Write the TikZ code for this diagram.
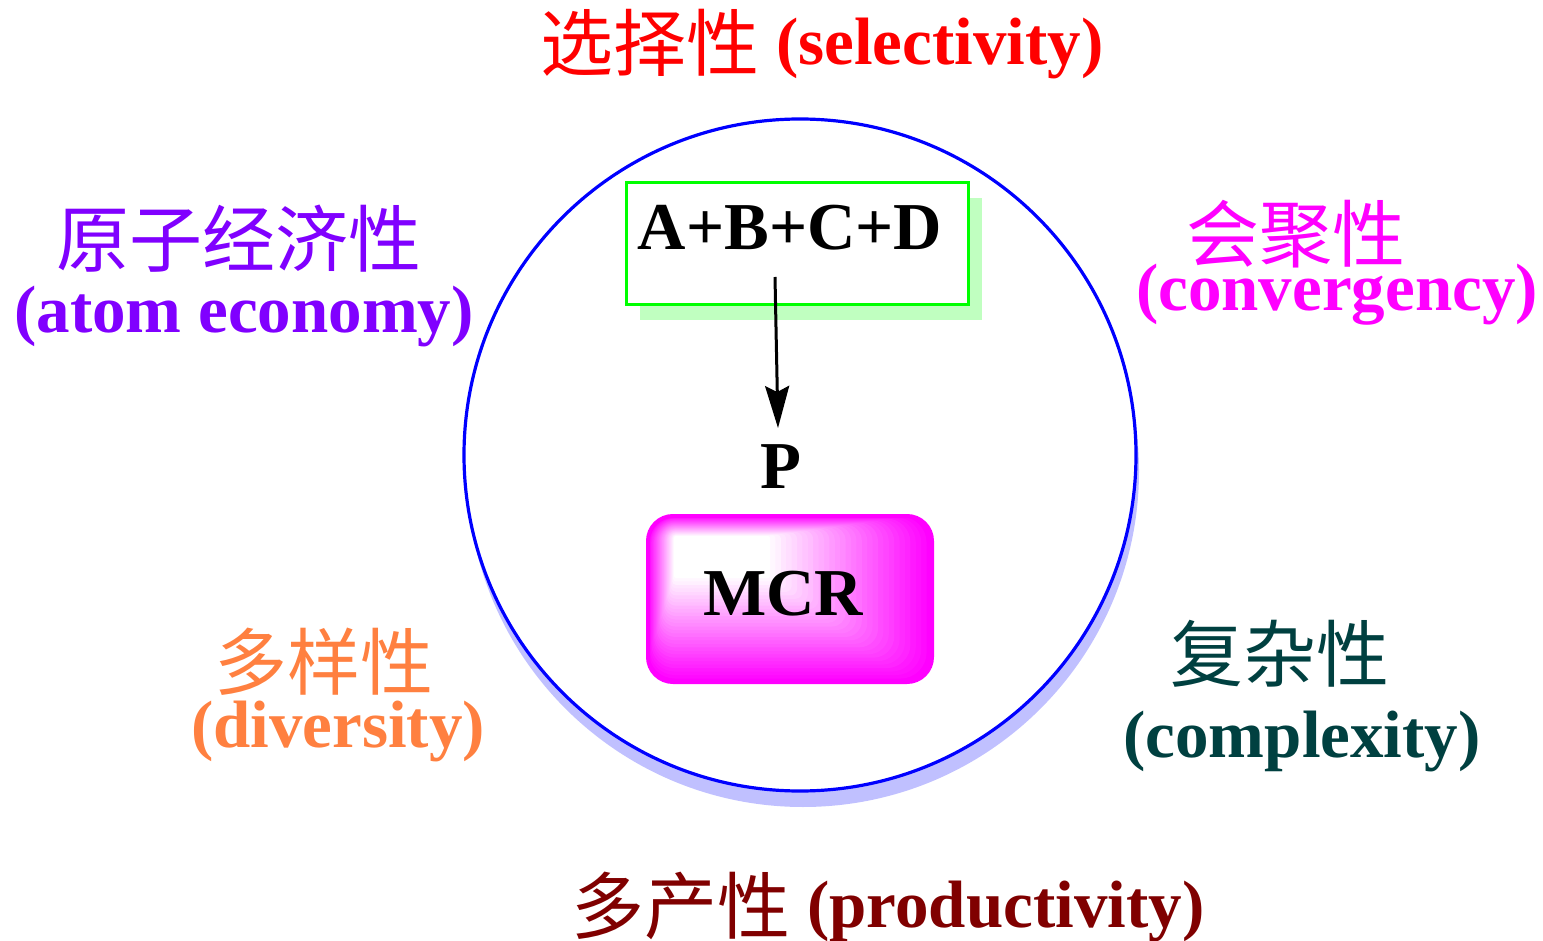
\documentclass[tikz,border=0pt]{standalone}
\usepackage{fontspec}
\setmainfont{Liberation Serif}
\newfontfamily\cjk{Noto Sans CJK SC}
\usetikzlibrary{arrows.meta,shadows}
\definecolor{selred}{HTML}{FF0000}
\definecolor{atompurple}{HTML}{8000FF}
\definecolor{convmag}{HTML}{FF00FF}
\definecolor{divorange}{HTML}{FF8040}
\definecolor{compteal}{HTML}{004040}
\definecolor{proddark}{HTML}{800000}
\definecolor{shadowblue}{HTML}{C0C0FF}
\definecolor{shadowgreen}{HTML}{C0FFC0}
\definecolor{boxgreen}{HTML}{00FF00}
\definecolor{ringblue}{HTML}{0000FF}
\definecolor{mcrmag}{HTML}{FF00FF}
\newcommand\zhinline[1]{\raisebox{-3pt}{\cjk\mdseries\fontsize{36.5pt}{38pt}\selectfont #1}}
\begin{document}
\begin{tikzpicture}[x=0.5pt,y=-0.5pt,
  lat/.style={font=\fontsize{33.5pt}{36pt}\selectfont\bfseries, inner sep=0pt, anchor=base},
  zh/.style={font=\fontsize{36.5pt}{38pt}\selectfont\cjk, inner sep=0pt, anchor=base},
]
\useasboundingbox (0,0) rectangle (1543,941);

% ring with shadow
\node[circle, draw=ringblue, line width=1.6pt, fill=white, minimum size=336pt, inner sep=0pt,
  drop shadow={shadow xshift=1.5pt, shadow yshift=-8pt, fill=shadowblue, opacity=1}] (ring) at (800,455) {};

% green reactant box
\node[draw=boxgreen, line width=1.5pt, fill=white, minimum width=171pt, minimum height=61pt, inner sep=0pt,
  drop shadow={shadow xshift=7pt, shadow yshift=-7.5pt, fill=shadowgreen, opacity=1}] (box) at (797,244) {};
\node[lat] (abcd) at (790,250) {A+B+C+D};

% MCR box with bevel-like gradient
\foreach \i in {0,...,30}{
  \pgfmathsetmacro\t{\i/30}
  \pgfmathsetmacro\xa{648+26*\t}
  \pgfmathsetmacro\ya{516+20*\t}
  \pgfmathsetmacro\xb{932-162*\t}
  \pgfmathsetmacro\yb{682-104*\t}
  \pgfmathtruncatemacro\p{100*(1-\t)}
  \pgfmathsetmacro\rc{12.5*(1-\t)+1}
  \fill[mcrmag!\p!white, rounded corners=\rc pt] (\xa,\ya) rectangle (\xb,\yb);
}
\node[draw=mcrmag, line width=2pt, rounded corners=12.5pt, minimum width=142pt, minimum height=83pt, inner sep=0pt] (mcrbox) at (790,599) {};
\node[lat] (mcr) at (783,615) {MCR};

% product and arrow
\node[lat] (P) at (781,488) {P};
\coordinate (arrS) at (775,277);
\coordinate (arrE) at (778,428);
\draw[line width=1.5pt, -{Stealth[length=21pt,width=12pt,inset=3pt]}] (arrS) -- (arrE);

% labels
\node[lat, text=selred] (sel) at (822,65) {\zhinline{选择性} (selectivity)};

\node[zh, text=atompurple] (atomzh) at (239,267) {原子经济性};
\node[lat, text=atompurple] (atomen) at (244,333) {(atom economy)};

\node[zh, text=convmag] (convzh) at (1296,262) {会聚性};
\node[lat, text=convmag] (conven) at (1337,311) {(convergency)};

\node[zh, text=divorange] (divzh) at (324,689) {多样性};
\node[lat, text=divorange] (diven) at (338,747) {(diversity)};

\node[zh, text=compteal] (compzh) at (1280,681) {复杂性};
\node[lat, text=compteal] (compen) at (1302,757) {(complexity)};

\node[lat, text=proddark] (prod) at (888,927) {\zhinline{多产性} (productivity)};
\end{tikzpicture}
\end{document}
